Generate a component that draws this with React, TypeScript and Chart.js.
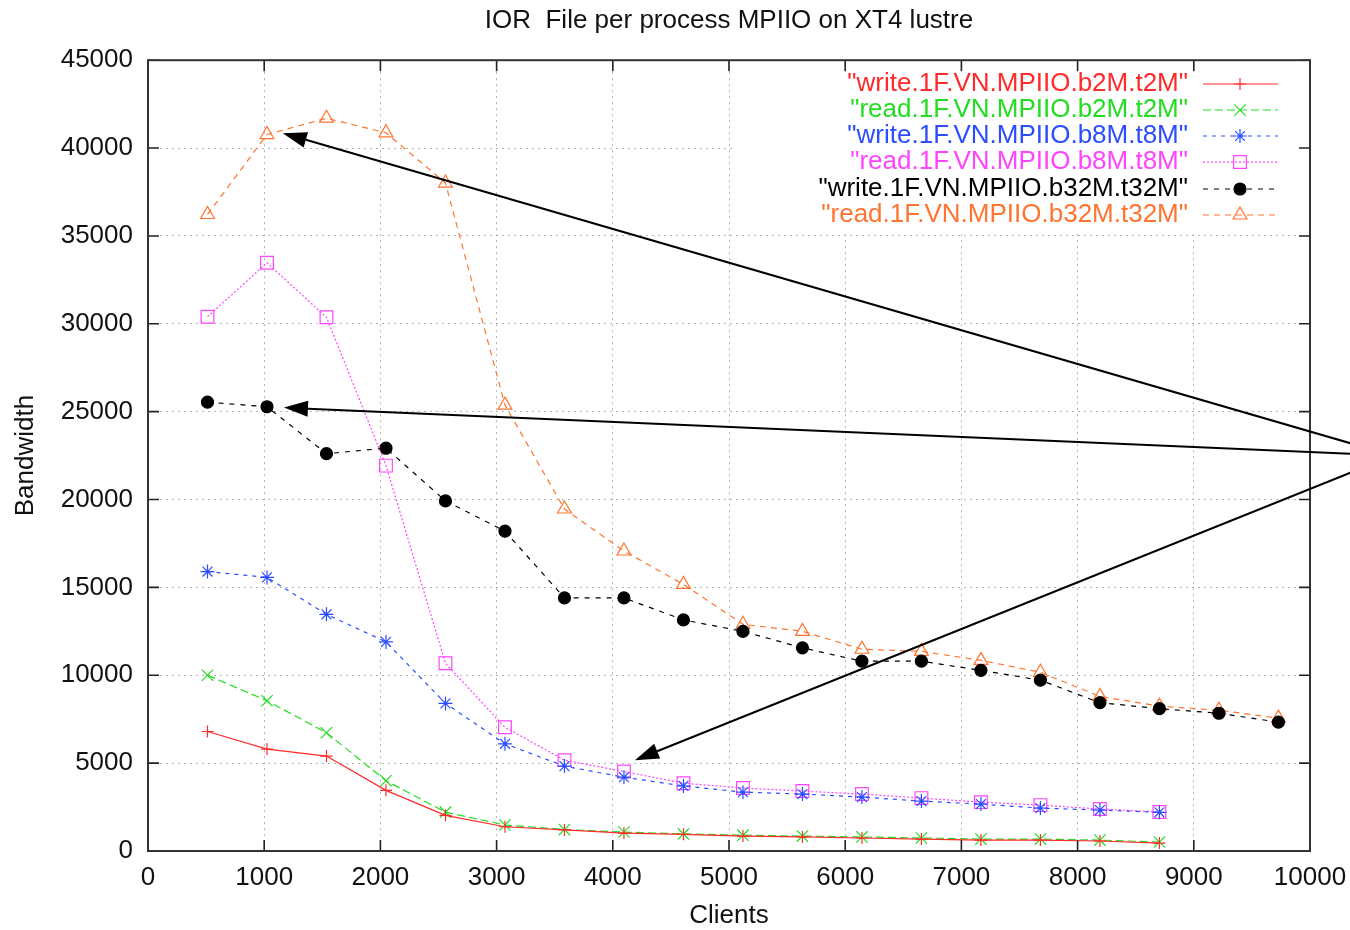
import React, { useEffect, useRef } from "react";
import { Chart, registerables } from "chart.js";
import { drawPoint } from "chart.js/helpers";

Chart.register(...registerables);

const TITLE = "IOR  File per process MPIIO on XT4 lustre";
const X_TITLE = "Clients";
const Y_TITLE = "Bandwidth";

const CLIENTS = [512, 1024, 1536, 2048, 2560, 3072, 3584, 4096, 4608, 5120, 5632, 6144, 6656, 7168, 7680, 8192, 8704, 9216, 9728];

const WRITE_B2M = [6800, 5800, 5400, 3450, 2030, 1380, 1200, 1020, 950, 850, 800, 740, 680, 620, 620, 570, 450];
const READ_B2M = [10000, 8550, 6730, 4000, 2210, 1480, 1220, 1080, 970, 900, 850, 800, 740, 680, 680, 620, 510];
const WRITE_B8M = [15900, 15570, 13470, 11900, 8400, 6100, 4830, 4200, 3700, 3350, 3240, 3070, 2840, 2670, 2440, 2330, 2200];
const READ_B8M = [30400, 33470, 30370, 21930, 10680, 7040, 5170, 4520, 3860, 3580, 3410, 3240, 3010, 2780, 2610, 2390, 2220];
const WRITE_B32M = [25540, 25280, 22610, 22920, 19920, 18200, 14400, 14400, 13150, 12500, 11560, 10800, 10800, 10280, 9720, 8440, 8100, 7840, 7330];
const READ_B32M = [36220, 40770, 41700, 40870, 38010, 25370, 19460, 17070, 15170, 12900, 12500, 11480, 11360, 10850, 10170, 8800, 8240, 8010, 7560];

const SERIES_LABELS = [
  '"write.1F.VN.MPIIO.b2M.t2M"',
  '"read.1F.VN.MPIIO.b2M.t2M"',
  '"write.1F.VN.MPIIO.b8M.t8M"',
  '"read.1F.VN.MPIIO.b8M.t8M"',
  '"write.1F.VN.MPIIO.b32M.t32M"',
  '"read.1F.VN.MPIIO.b32M.t32M"',
];

const X_TICKS = [0, 1000, 2000, 3000, 4000, 5000, 6000, 7000, 8000, 9000, 10000];
const Y_TICKS = [0, 5000, 10000, 15000, 20000, 25000, 30000, 35000, 40000, 45000];

// annotation arrows (data units)
const ARROW_FROM_X = 10714;
const ARROW_FROM_Y = 22500;
const ARROW_TIP_X = [1160, 1170, 4190];
const ARROW_TIP_Y = [40850, 25230, 5170];

const FONT = '"Liberation Sans", Arial, Helvetica, sans-serif';

const STYLES = [
  { color: "#ff2a2a", dash: [] as number[], point: "cross", radius: 6, fill: "transparent" },
  { color: "#22dd22", dash: [8, 4], point: "crossRot", radius: 8, fill: "transparent" },
  { color: "#2b4dff", dash: [4, 5], point: "star", radius: 7, fill: "transparent" },
  { color: "#ff44ff", dash: [2, 2], point: "rect", radius: 9, fill: "transparent" },
  { color: "#000000", dash: [5, 6], point: "circle", radius: 6, fill: "#000000" },
  { color: "#ff7430", dash: [6, 5], point: "triangle", radius: 8, fill: "transparent" },
];

const SERIES_VALUES = [WRITE_B2M, READ_B2M, WRITE_B8M, READ_B8M, WRITE_B32M, READ_B32M];

const frame = {
  id: "gnuFrame",
  afterLayout(chart: any) {
    const tb = chart.titleBlock;
    if (tb) {
      tb.left = chart.chartArea.left;
      tb.right = chart.chartArea.right;
      tb.width = tb.right - tb.left;
    }
  },
  beforeDatasetsDraw(chart: any) {
    const { ctx, chartArea } = chart;
    const rows = [84, 110, 136, 162, 189, 215];
    ctx.save();
    ctx.fillStyle = "#ffffff";
    ctx.fillRect(733, chartArea.top + 2, chartArea.right - 735, 169);
    ctx.font = `26px ${FONT}`;
    ctx.textAlign = "right";
    ctx.textBaseline = "middle";
    chart.data.datasets.forEach((ds: any, i: number) => {
      const y = rows[i];
      const st = STYLES[i];
      ctx.fillStyle = st.color;
      ctx.fillText(ds.label, 1188, y);
      ctx.strokeStyle = st.color;
      ctx.lineWidth = 1.2;
      ctx.setLineDash(st.dash);
      ctx.beginPath();
      ctx.moveTo(1203, y);
      ctx.lineTo(1278, y);
      ctx.stroke();
      ctx.setLineDash([]);
      ctx.fillStyle = st.fill;
      drawPoint(ctx, { pointStyle: st.point, radius: st.radius, rotation: 0, borderWidth: 1.2 } as any, 1240, y);
    });
    ctx.restore();
  },
  afterDatasetsDraw(chart: any) {
    const { ctx, chartArea, scales } = chart;
    const { left, right, top, bottom } = chartArea;
    ctx.save();
    ctx.setLineDash([]);
    ctx.strokeStyle = "#222";
    ctx.lineWidth = 1.6;
    const tl = 11;
    Y_TICKS.forEach((v) => {
      const y = scales.y.getPixelForValue(v);
      ctx.beginPath();
      ctx.moveTo(left, y);
      ctx.lineTo(left + tl, y);
      ctx.moveTo(right, y);
      ctx.lineTo(right - tl, y);
      ctx.stroke();
    });
    X_TICKS.forEach((v) => {
      const x = scales.x.getPixelForValue(v);
      ctx.beginPath();
      ctx.moveTo(x, bottom);
      ctx.lineTo(x, bottom - tl);
      ctx.moveTo(x, top);
      ctx.lineTo(x, top + tl);
      ctx.stroke();
    });
    ctx.strokeStyle = "#333";
    ctx.lineWidth = 2;
    ctx.strokeRect(left, top, right - left, bottom - top);
    ctx.restore();
  },
  afterDraw(chart: any) {
    const { ctx, scales } = chart;
    const fx = scales.x.getPixelForValue(ARROW_FROM_X);
    const fy = scales.y.getPixelForValue(ARROW_FROM_Y);
    ctx.save();
    ctx.setLineDash([]);
    ctx.strokeStyle = "#000";
    ctx.fillStyle = "#000";
    ctx.lineWidth = 2;
    ARROW_TIP_X.forEach((tx0, i) => {
      const tx = scales.x.getPixelForValue(tx0);
      const ty = scales.y.getPixelForValue(ARROW_TIP_Y[i]);
      const ang = Math.atan2(fy - ty, fx - tx);
      const len = 24;
      const hw = 8;
      const bx = tx + Math.cos(ang) * len;
      const by = ty + Math.sin(ang) * len;
      ctx.beginPath();
      ctx.moveTo(fx, fy);
      ctx.lineTo(bx, by);
      ctx.stroke();
      ctx.beginPath();
      ctx.moveTo(tx, ty);
      ctx.lineTo(bx - Math.sin(ang) * hw, by + Math.cos(ang) * hw);
      ctx.lineTo(bx + Math.sin(ang) * hw, by - Math.cos(ang) * hw);
      ctx.closePath();
      ctx.fill();
    });
    ctx.restore();
  },
};

export default function App() {
  const ref = useRef<HTMLCanvasElement | null>(null);
  useEffect(() => {
    if (!ref.current) return;
    const datasets = SERIES_VALUES.map((vals, i) => ({
      label: SERIES_LABELS[i],
      data: vals.map((v, j) => ({ x: CLIENTS[j], y: v })),
      borderColor: STYLES[i].color,
      backgroundColor: STYLES[i].fill,
      borderWidth: 1.2,
      borderDash: STYLES[i].dash,
      tension: 0,
      fill: false,
      pointStyle: STYLES[i].point,
      pointRadius: STYLES[i].radius,
      pointBorderWidth: 1.2,
      pointBorderColor: STYLES[i].color,
      pointBackgroundColor: STYLES[i].fill,
    }));
    const chart = new Chart(ref.current, {
      type: "line",
      data: { datasets },
      plugins: [frame],
      options: {
        animation: false,
        responsive: true,
        maintainAspectRatio: false,
        devicePixelRatio: 1,
        layout: { padding: { left: 0, right: 40, top: 0, bottom: 0 } },
        plugins: {
          legend: { display: false },
          tooltip: { enabled: false },
          title: {
            display: true,
            text: TITLE,
            color: "#111",
            font: { family: FONT, size: 26, weight: "normal", lineHeight: 1.2 },
            padding: { top: 5, bottom: 24 },
          },
        },
        scales: {
          x: {
            type: "linear",
            min: 0,
            max: 10000,
            afterFit: (s: any) => { s.height = 79; s.paddingLeft = 0; s.paddingRight = 0; },
            afterBuildTicks: (s: any) => { s.ticks = X_TICKS.map((v) => ({ value: v })); },
            ticks: {
              stepSize: 1000,
              color: "#111",
              padding: 11,
              maxRotation: 0,
              font: { family: FONT, size: 26 },
              callback: (v: any) => String(v),
            },
            grid: { color: "#b4b4b4", lineWidth: 1, drawTicks: false },
            border: { display: false, dash: [2, 4] },
            title: {
              display: true,
              text: X_TITLE,
              color: "#111",
              font: { family: FONT, size: 26, lineHeight: 1.1 },
              padding: { top: 0, bottom: 0 },
            },
          },
          y: {
            type: "linear",
            min: 0,
            max: 45000,
            afterFit: (s: any) => { s.width = 148; s.paddingTop = 0; s.paddingBottom = 0; },
            afterBuildTicks: (s: any) => { s.ticks = Y_TICKS.map((v) => ({ value: v })); },
            ticks: {
              stepSize: 5000,
              color: "#111",
              padding: 15,
              font: { family: FONT, size: 26 },
              callback: (v: any) => String(v),
            },
            grid: { color: "#b4b4b4", lineWidth: 1, drawTicks: false },
            border: { display: false, dash: [2, 4] },
            title: {
              display: true,
              text: Y_TITLE,
              color: "#111",
              font: { family: FONT, size: 26, lineHeight: 1.2 },
              padding: { top: 10, bottom: 0 },
            },
          },
        },
      } as any,
    });
    return () => chart.destroy();
  }, []);
  return (
    <div style={{ position: "absolute", left: 0, top: 0, width: 1350, height: 930, background: "#fff" }}>
      <canvas ref={ref} />
    </div>
  );
}
